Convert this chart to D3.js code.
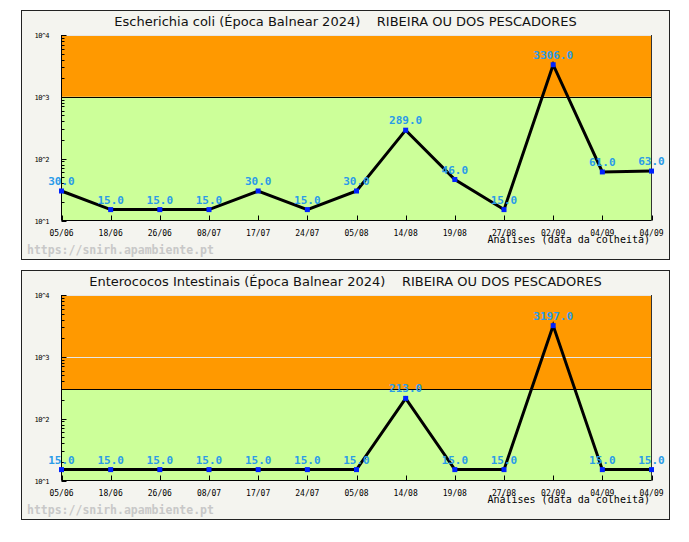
<!DOCTYPE html>
<html><head><meta charset="utf-8">
<script src="https://cdn.jsdelivr.net/npm/d3@7"></script>
<style>html,body{margin:0;padding:0;background:#fff;}svg{display:block;}</style>
</head><body><svg id="c" width="689" height="542"></svg>
<script>
const dates = ["05/06","18/06","26/06","08/07","17/07","24/07","05/08","14/08","19/08","27/08","02/09","04/09","04/09"];
const ecoliValues = [30,15,15,15,30,15,30,289,46,15,3306,61,63];
const enteroValues = [15,15,15,15,15,15,15,213,15,15,3197,15,15];
const yTickValues = [10,100,1000,10000];
const yTickLabels = ["10^1","10^2","10^3","10^4"];
const titles = ["Escherichia coli (Época Balnear 2024)\u00a0\u00a0\u00a0 RIBEIRA OU DOS PESCADORES",
                "Enterococos Intestinais (Época Balnear 2024)\u00a0\u00a0\u00a0 RIBEIRA OU DOS PESCADORES"];
const limits = [1000, 300];
const xTitle = "Análises (data da colheita)";
const watermark = "https://snirh.apambiente.pt";

const svg = d3.select("#c");
const mono = "'DejaVu Sans Mono', monospace";

function panel(oy, title, values, limit) {
  const g = svg.append("g").attr("transform", `translate(0,${oy})`);
  g.append("rect").attr("x",21.5).attr("y",10.5).attr("width",648).attr("height",249)
    .attr("fill","#f4f4ef").attr("stroke","#222").attr("stroke-width",1);
  g.append("text").attr("x",345.5).attr("y",26).attr("text-anchor","middle")
    .attr("font-family","'DejaVu Sans', Verdana, sans-serif").attr("font-size",13).attr("fill","#111")
    .text(title);

  const x = d3.scalePoint().domain(d3.range(dates.length)).range([61.5, 651.5]);
  const y = d3.scaleLog().domain([10, 10000]).range([220.5, 35]);
  const left = 61.5, right = 651.5;

  // bands
  g.append("rect").attr("x",left).attr("y",y(10000)).attr("width",right-left).attr("height",y(limit)-y(10000)).attr("fill","#ff9900");
  g.selectAll("line.grid").data(yTickValues.filter(v=>v>limit)).join("line").attr("class","grid")
    .attr("x1",left).attr("x2",right).attr("y1",d=>Math.round(y(d))+0.5).attr("y2",d=>Math.round(y(d))+0.5)
    .attr("stroke","#e6e6e6").attr("stroke-width",1);
  g.append("rect").attr("x",left).attr("y",y(limit)).attr("width",right-left).attr("height",y(10)-y(limit)).attr("fill","#ccff99");
  g.append("line").attr("x1",left).attr("x2",right).attr("y1",Math.round(y(limit))+0.5).attr("y2",Math.round(y(limit))+0.5)
    .attr("stroke","#000").attr("stroke-width",1);

  // axes lines
  g.append("line").attr("x1",left).attr("x2",left).attr("y1",y(10000)).attr("y2",220.5).attr("stroke","#000");
  g.append("line").attr("x1",right).attr("x2",right).attr("y1",y(10000)).attr("y2",220.5).attr("stroke","#333");
  g.append("line").attr("x1",left).attr("x2",right).attr("y1",220.5).attr("y2",220.5).attr("stroke","#000");

  // y ticks (inward)
  const minor = [];
  for (let d = 10; d < 10000; d *= 10) for (let k = 2; k <= 9; k++) minor.push(d*k);
  g.selectAll("line.minor").data(minor).join("line").attr("class","minor")
    .attr("x1",left).attr("x2",left+3).attr("y1",d=>Math.round(y(d))+0.5).attr("y2",d=>Math.round(y(d))+0.5).attr("stroke","#000");
  g.selectAll("line.major").data(yTickValues).join("line").attr("class","major")
    .attr("x1",left).attr("x2",left+5).attr("y1",d=>Math.round(y(d))+0.5).attr("y2",d=>Math.round(y(d))+0.5).attr("stroke","#000");
  g.selectAll("text.ylab").data(yTickValues).join("text").attr("class","ylab")
    .attr("x",49).attr("y",d=>y(d)+3).attr("text-anchor","end")
    .attr("font-family",mono).attr("font-size",7).attr("letter-spacing",-0.6).attr("fill","#000")
    .text((d,i)=>yTickLabels[i]);

  // x ticks (inward)
  g.selectAll("line.xt").data(d3.range(dates.length)).join("line").attr("class","xt")
    .attr("x1",d=>Math.round(x(d))+0.5).attr("x2",d=>Math.round(x(d))+0.5).attr("y1",220.5).attr("y2",215.5).attr("stroke","#000");
  g.selectAll("text.xlab").data(d3.range(dates.length)).join("text").attr("class","xlab")
    .attr("x",d=>x(d)).attr("y",236).attr("text-anchor","middle")
    .attr("font-family",mono).attr("font-size",8).attr("fill","#000")
    .text(d=>dates[d]);

  g.append("text").attr("x",650).attr("y",243).attr("text-anchor","end")
    .attr("font-family",mono).attr("font-size",10).attr("fill","#000").text(xTitle);
  g.append("text").attr("x",27).attr("y",254)
    .attr("font-family",mono).attr("font-size",11.5).attr("font-weight","bold").attr("fill","#c8c8c8").text(watermark);

  // line
  const line = d3.line().x((d,i)=>x(i)).y(d=>y(d));
  g.append("path").datum(values).attr("d",line).attr("fill","none").attr("stroke","#000").attr("stroke-width",3).attr("stroke-linejoin","miter");
  g.selectAll("rect.pt").data(values).join("rect").attr("class","pt")
    .attr("x",(d,i)=>x(i)-2.5).attr("y",d=>y(d)-2.5).attr("width",5).attr("height",5).attr("fill","#0022ff");
  g.selectAll("text.val").data(values).join("text").attr("class","val")
    .attr("x",(d,i)=>x(i)).attr("y",d=>y(d)-6).attr("text-anchor","middle")
    .attr("font-family",mono).attr("font-size",11).attr("font-weight","bold").attr("fill","#2a9be8")
    .text(d=>d3.format(".1f")(d));
}

panel(0, titles[0], ecoliValues, limits[0]);
panel(260, titles[1], enteroValues, limits[1]);
</script></body></html>
